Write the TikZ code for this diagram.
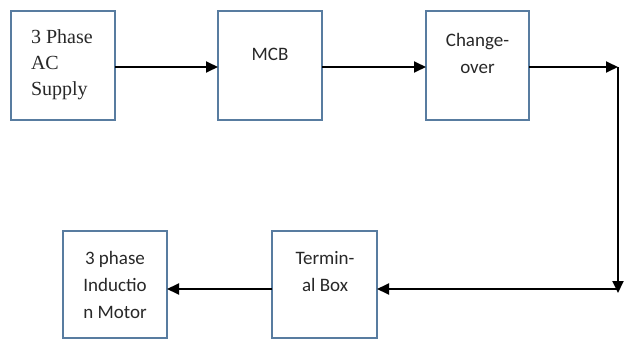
\documentclass[tikz,border=0pt]{standalone}
\usepackage{fontspec}
\setmainfont{Carlito}
\newfontfamily\serifcam{Liberation Serif}
\usetikzlibrary{arrows.meta,calc}
\definecolor{boxblue}{RGB}{88,124,160}
\definecolor{txtgray}{RGB}{40,40,40}
\tikzset{
  blockbox/.style={draw=boxblue, line width=1.8pt, fill=white, minimum width=104pt, minimum height=109pt, inner sep=0pt, outer sep=0pt},
  lbl/.style={inner sep=0pt, outer sep=0pt, text=txtgray, font=\fontsize{19}{27}\selectfont, align=center, anchor=base},
  flow/.style={line width=1.9pt, draw=black, -{Triangle[length=12pt,width=11pt]}},
  plainline/.style={line width=1.9pt, draw=black}
}
\begin{document}
\begin{tikzpicture}[x=1pt,y=1pt]
\useasboundingbox (0,0) rectangle (627,-340);
% boxes
\node[blockbox] (sup) at (63,-65.5) {};
\node[blockbox] (mcb) at (270,-65.5) {};
\node[blockbox, minimum width=103pt] (chg) at (477.5,-65.5) {};
\node[blockbox, minimum width=105pt, minimum height=107pt] (tb) at (324.5,-284.5) {};
\node[blockbox, minimum height=107pt] (mot) at (115,-284.5) {};
% labels (anchor = baseline of last line)
\node[lbl, align=left, anchor=base west, font=\serifcam\fontsize{20}{26}\selectfont] (supt) at (31,-95) {3 Phase\\AC\\Supply};
\node[lbl] (mcbt) at (270,-60) {MCB};
\node[lbl] (chgt) at (477.5,-73) {Change-\\over};
\node[lbl] (tbt) at (325,-291) {Termin-\\al Box};
\node[lbl] (mott) at (115,-318) {3 phase\\Inductio\\n Motor};
% connectors
\coordinate (c1) at (618,-67);
\coordinate (c2) at (618,-289);
\draw[flow] (sup.east |- c1) -- (mcb.west |- c1);
\draw[flow] (mcb.east |- c1) -- (chg.west |- c1);
\draw[flow] (chg.east |- c1) -- (c1);
\draw[plainline] (c1) -- (c2);
\draw[flow] ($(c1)+(0,-1)$) -- ($(c2)+(0,-4)$);
\draw[flow] (c2) -- (c2 -| tb.east);
\draw[flow] (tb.west |- c2) -- (c2 -| mot.east);
\end{tikzpicture}
\end{document}
